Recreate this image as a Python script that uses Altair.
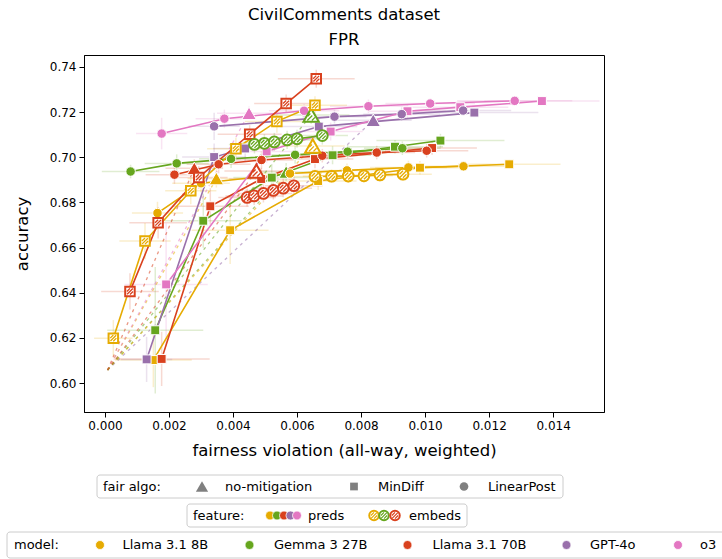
import altair as alt
import pandas as pd

FONT = "DejaVu Sans"
MODELS = ["Llama 3.1 8B", "Gemma 3 27B", "Llama 3.1 70B", "GPT-4o", "o3"]
COLORS = ["#e6ab02", "#66a61e", "#d9411e", "#9970ab", "#e377c2"]
ALGOS = ["no-mitigation", "MinDiff", "LinearPost"]
FEATURES = ["preds", "embeds"]
XTICKS = [0.0, 0.002, 0.004, 0.006, 0.008, 0.010, 0.012, 0.014]
YTICKS = [0.60, 0.62, 0.64, 0.66, 0.68, 0.70, 0.72, 0.74]

# each series: (x, y, x-error, y-error)
L8_P_NM = ([0.00348], [0.6906], [0.0009], [0.004])
L8_P_MD = ([0.00151, 0.00391, 0.00666, 0.00984, 0.01263],
           [0.6102, 0.6677, 0.6895, 0.6954, 0.6969],
           [0.0012, 0.0012, 0.0012, 0.0014, 0.0016],
           [0.012, 0.015, 0.004, 0.003, 0.002])
L8_P_LP = ([0.00164, 0.0030, 0.00578, 0.00756, 0.00948, 0.0112],
           [0.6753, 0.6885, 0.6928, 0.6942, 0.6955, 0.6960],
           [0.0008, 0.0009, 0.0010, 0.0011, 0.0012, 0.0013],
           [0.005, 0.004, 0.003, 0.003, 0.003, 0.002])
G_P_NM = ([0.00566], [0.6935], [0.0011], [0.004])
G_P_MD = ([0.00157, 0.00307, 0.00521, 0.00711, 0.00906, 0.01048],
          [0.6234, 0.6719, 0.6910, 0.7009, 0.7047, 0.7074],
          [0.0015, 0.0012, 0.0012, 0.0012, 0.0015, 0.0020],
          [0.028, 0.012, 0.006, 0.004, 0.003, 0.003])
G_P_LP = ([0.0008, 0.00224, 0.00394, 0.00594, 0.00758, 0.00929],
          [0.6937, 0.6973, 0.6993, 0.7011, 0.7025, 0.7040],
          [0.0009, 0.0010, 0.0010, 0.0011, 0.0012, 0.0012],
          [0.003, 0.004, 0.004, 0.004, 0.003, 0.003])
L70_P_NM = ([0.00279], [0.6951], [0.0009], [0.004])
L70_P_MD = ([0.00177, 0.00329, 0.00488, 0.00656, 0.01022],
            [0.6107, 0.6783, 0.6904, 0.6992, 0.7041],
            [0.0015, 0.0012, 0.0010, 0.0012, 0.0014],
            [0.012, 0.008, 0.005, 0.004, 0.003])
L70_P_LP = ([0.00217, 0.00355, 0.00489, 0.00679, 0.00849, 0.01005],
            [0.6923, 0.6969, 0.6988, 0.7007, 0.7021, 0.7029],
            [0.0009, 0.0010, 0.0010, 0.0011, 0.0012, 0.0013],
            [0.004, 0.004, 0.004, 0.003, 0.003, 0.003])
G4_P_NM = ([0.00838], [0.7164], [0.0012], [0.003])
G4_P_MD = ([0.0013, 0.00341, 0.00438, 0.00668, 0.01154],
           [0.6105, 0.7001, 0.7039, 0.7136, 0.7198],
           [0.0008, 0.0010, 0.0010, 0.0012, 0.0020],
           [0.010, 0.006, 0.006, 0.004, 0.002])
G4_P_LP = ([0.00341, 0.00717, 0.00927, 0.01119],
           [0.7137, 0.7180, 0.7191, 0.7207],
           [0.0008, 0.0010, 0.0012, 0.0015],
           [0.006, 0.003, 0.003, 0.002])
O3_P_NM = ([0.0045], [0.7195], [0.0010], [0.003])
O3_P_MD = ([0.00191, 0.00505, 0.00705, 0.00945, 0.0111, 0.01365],
           [0.6437, 0.7026, 0.7114, 0.7204, 0.7222, 0.7249],
           [0.0013, 0.0010, 0.0010, 0.0012, 0.0015, 0.0018],
           [0.027, 0.005, 0.004, 0.003, 0.002, 0.002])
O3_P_LP = ([0.00177, 0.00373, 0.00622, 0.00823, 0.01016, 0.0128],
           [0.7105, 0.7171, 0.7206, 0.7226, 0.7238, 0.7250],
           [0.0008, 0.0009, 0.0011, 0.0012, 0.0014, 0.0018],
           [0.007, 0.004, 0.003, 0.003, 0.002, 0.002])
L8_E_NM = ([0.00649], [0.7050], [0.0010], [0.004])
L8_E_MD = ([0.00026, 0.00125, 0.00268, 0.00409, 0.00537, 0.00656],
           [0.6199, 0.6629, 0.6852, 0.7038, 0.7159, 0.7230],
           [0.0006, 0.0008, 0.0008, 0.0009, 0.0010, 0.0010],
           [0.008, 0.008, 0.006, 0.005, 0.005, 0.004])
L8_E_LP = ([0.00656, 0.00708, 0.0076, 0.00809, 0.00859, 0.00931],
           [0.6915, 0.6916, 0.6917, 0.6918, 0.6922, 0.6925],
           [0.0009, 0.0009, 0.0009, 0.0009, 0.0009, 0.0009],
           [0.003, 0.003, 0.003, 0.003, 0.003, 0.003])
G_E_NM = ([0.00644], [0.7187], [0.0012], [0.004])
G_E_LP = ([0.00467, 0.00498, 0.00529, 0.00569, 0.0060, 0.00679],
          [0.7057, 0.7062, 0.7068, 0.7077, 0.7082, 0.7096],
          [0.0008, 0.0008, 0.0008, 0.0008, 0.0008, 0.0008],
          [0.004, 0.004, 0.004, 0.004, 0.004, 0.004])
L70_E_NM = ([0.00473], [0.6939], [0.0010], [0.004])
L70_E_MD = ([0.00078, 0.00166, 0.00293, 0.00452, 0.00566, 0.0066],
            [0.6406, 0.6710, 0.6911, 0.7102, 0.7238, 0.7348],
            [0.0009, 0.0009, 0.0009, 0.0010, 0.0010, 0.0012],
            [0.008, 0.007, 0.005, 0.004, 0.004, 0.004])
L70_E_LP = ([0.00444, 0.00466, 0.00495, 0.00526, 0.00557, 0.0059],
            [0.6822, 0.6829, 0.6840, 0.6853, 0.6863, 0.6874],
            [0.0009, 0.0009, 0.0009, 0.0009, 0.0009, 0.0009],
            [0.004, 0.004, 0.004, 0.004, 0.004, 0.004])
# trivial (constant) classifier that the dashed lines start from
ORIGIN = (0.00008, 0.6058)

SERIES = [
    ("Llama 3.1 8B", "preds", "no-mitigation", L8_P_NM),
    ("Llama 3.1 8B", "preds", "MinDiff", L8_P_MD),
    ("Llama 3.1 8B", "preds", "LinearPost", L8_P_LP),
    ("Gemma 3 27B", "preds", "no-mitigation", G_P_NM),
    ("Gemma 3 27B", "preds", "MinDiff", G_P_MD),
    ("Gemma 3 27B", "preds", "LinearPost", G_P_LP),
    ("Llama 3.1 70B", "preds", "no-mitigation", L70_P_NM),
    ("Llama 3.1 70B", "preds", "MinDiff", L70_P_MD),
    ("Llama 3.1 70B", "preds", "LinearPost", L70_P_LP),
    ("GPT-4o", "preds", "no-mitigation", G4_P_NM),
    ("GPT-4o", "preds", "MinDiff", G4_P_MD),
    ("GPT-4o", "preds", "LinearPost", G4_P_LP),
    ("o3", "preds", "no-mitigation", O3_P_NM),
    ("o3", "preds", "MinDiff", O3_P_MD),
    ("o3", "preds", "LinearPost", O3_P_LP),
    ("Llama 3.1 8B", "embeds", "no-mitigation", L8_E_NM),
    ("Llama 3.1 8B", "embeds", "MinDiff", L8_E_MD),
    ("Llama 3.1 8B", "embeds", "LinearPost", L8_E_LP),
    ("Gemma 3 27B", "embeds", "no-mitigation", G_E_NM),
    ("Gemma 3 27B", "embeds", "LinearPost", G_E_LP),
    ("Llama 3.1 70B", "embeds", "no-mitigation", L70_E_NM),
    ("Llama 3.1 70B", "embeds", "MinDiff", L70_E_MD),
    ("Llama 3.1 70B", "embeds", "LinearPost", L70_E_LP),
]

rows, dash_rows = [], []
for sid, (model, feat, algo, (xs, ys, xe, ye)) in enumerate(SERIES):
    for i, (x, y, a, b) in enumerate(zip(xs, ys, xe, ye)):
        rows.append(dict(sid=sid, model=model, feature=feat, algo=algo, order=i,
                         x=x, y=y, xlo=x - a, xhi=x + a, ylo=y - b, yhi=y + b))
    if algo == "no-mitigation":
        dash_rows.append(dict(sid=sid, model=model, order=0, x=ORIGIN[0], y=ORIGIN[1]))
        dash_rows.append(dict(sid=sid, model=model, order=1, x=xs[0], y=ys[0]))
df = pd.DataFrame(rows)
ddf = pd.DataFrame(dash_rows)

XS = alt.Scale(domain=[-0.000656, 0.01559], nice=False, zero=False)
YS = alt.Scale(domain=[0.5872, 0.7453], nice=False, zero=False)
XA = alt.Axis(title="fairness violation (all-way, weighted)", values=XTICKS, format=".3f", grid=False)
YA = alt.Axis(title="accuracy", values=YTICKS, format=".2f", grid=False)
CS = alt.Scale(domain=MODELS, range=COLORS)


def X(f):
    return alt.X(f, scale=XS, axis=XA)


def Y(f):
    return alt.Y(f, scale=YS, axis=YA)


col = alt.Color("model:N", scale=CS, legend=None)
stk = alt.Stroke("model:N", scale=CS, legend=None)
base = alt.Chart(df)

err_h = base.mark_rule(strokeWidth=1.5, opacity=0.2, clip=True).encode(
    x=X("xlo:Q"), x2="xhi:Q", y=Y("y:Q"), color=col)
err_v = base.mark_rule(strokeWidth=1.5, opacity=0.2, clip=True).encode(
    x=X("x:Q"), y=Y("ylo:Q"), y2="yhi:Q", color=col)
dashed = alt.Chart(ddf).mark_line(strokeDash=[3, 4], strokeWidth=1.3, opacity=0.55, clip=True).encode(
    x=X("x:Q"), y=Y("y:Q"), color=col, detail="sid:N", order="order:Q")
lines = base.transform_filter(alt.datum.algo != "no-mitigation").mark_line(
    strokeWidth=1.6, clip=True).encode(
    x=X("x:Q"), y=Y("y:Q"), color=col, detail="sid:N", order="order:Q")

SHAPE = {"no-mitigation": "triangle-up", "MinDiff": "square", "LinearPost": "circle"}
PRED_SIZE = {"no-mitigation": 210, "MinDiff": 80, "LinearPost": 90}
EMB_SIZE = {"no-mitigation": 235, "MinDiff": 90, "LinearPost": 115}
HATCH = "M-0.6,0.6L0.6,-0.6M-0.65,0.0L0.0,-0.65M0.0,0.65L0.65,0.0"
HATCH_TRI = "M-0.5,0.7L0.15,0.05M0.1,0.7L0.5,0.3M-0.45,0.15L-0.1,-0.2"

marks = []
for algo in ALGOS:
    sub = base.transform_filter((alt.datum.feature == "preds") & (alt.datum.algo == algo))
    marks.append(sub.mark_point(shape=SHAPE[algo], size=PRED_SIZE[algo], filled=True, opacity=1,
                                stroke="white", strokeWidth=1, clip=True).encode(
        x=X("x:Q"), y=Y("y:Q"), color=col))
for algo in ALGOS:
    sub = base.transform_filter((alt.datum.feature == "embeds") & (alt.datum.algo == algo))
    marks.append(sub.mark_point(shape=SHAPE[algo], size=EMB_SIZE[algo], filled=True, opacity=1,
                                strokeWidth=2, clip=True).encode(
        x=X("x:Q"), y=Y("y:Q"), fill=alt.value("white"), stroke=stk))
    marks.append(sub.mark_point(shape=HATCH_TRI if algo == "no-mitigation" else HATCH,
                                size=EMB_SIZE[algo], filled=False, opacity=1,
                                strokeWidth=1.3, clip=True).encode(
        x=X("x:Q"), y=Y("y:Q"), stroke=stk))

# ---------- custom legends (layout positions in pixels relative to plot origin)
one = pd.DataFrame({"a": [0]})


def ltext(t, px, py):
    return alt.Chart(pd.DataFrame({"t": [t]})).mark_text(
        align="left", baseline="middle", font=FONT, fontSize=13, color="black").encode(
        x=alt.value(px), y=alt.value(py), text="t:N")


def lsym(shape, px, py, size, fill, stroke="white", sw=1.0):
    return alt.Chart(one).mark_point(shape=shape, size=size, filled=True, fill=fill,
                                     stroke=stroke, strokeWidth=sw, opacity=1).encode(
        x=alt.value(px), y=alt.value(py))


def lhatch(px, py, color):
    return alt.Chart(one).mark_point(shape=HATCH, size=90, filled=False, stroke=color,
                                     strokeWidth=1.2, opacity=1).encode(
        x=alt.value(px), y=alt.value(py))


def lbox(x1, x2, y1, y2):
    return alt.Chart(one).mark_rect(fill="white", stroke="#cccccc", strokeWidth=1,
                                    cornerRadius=3).encode(
        x=alt.value(x1), x2=alt.value(x2), y=alt.value(y1), y2=alt.value(y2))


GRAY = "#808080"
leg = [
    lbox(13, 479, 420, 443),
    ltext("fair algo:", 19, 431.5),
    lsym("triangle-up", 118, 431.5, 150, GRAY, GRAY, 0),
    ltext("no-mitigation", 141, 431.5),
    lsym("square", 270, 431.5, 60, GRAY, GRAY, 0),
    ltext("MinDiff", 294, 431.5),
    lsym("circle", 380, 431.5, 75, GRAY, GRAY, 0),
    ltext("LinearPost", 404, 431.5),
    lbox(103, 383, 449, 472),
    ltext("feature:", 109, 460.5),
]
for i, px in enumerate([186, 193, 200, 206.5, 213]):
    leg.append(lsym("circle", px, 460.5, 80, COLORS[i], "white", 0.8))
leg.append(ltext("preds", 224, 460.5))
for i, px in enumerate([290, 300, 311]):
    leg.append(lsym("circle", px, 460.5, 90, "white", COLORS[i], 2))
    leg.append(lhatch(px, 460.5, COLORS[i]))
leg.append(ltext("embeds", 325, 460.5))
leg.append(lbox(-77, 660, 477, 503))
leg.append(ltext("model:", -70, 490))
for i, (dx, tx) in enumerate([(16, 38.5), (165.5, 190), (323.5, 348.5), (482.5, 506), (594, 616)]):
    leg.append(lsym("circle", dx, 490, 80, COLORS[i], "white", 0.8))
    leg.append(ltext(MODELS[i], tx, 490))

chart = alt.layer(err_h, err_v, dashed, lines, *marks, *leg).properties(
    width=520, height=357,
    autosize=alt.AutoSizeParams(type="none"),
    padding={"left": 84, "top": 55, "right": 118, "bottom": 147},
    title=alt.TitleParams(["CivilComments dataset", "FPR"], font=FONT, fontSize=16.5,
                          fontWeight="normal", anchor="middle", lineHeight=25,
                          offset=7, color="black"),
).configure_view(stroke="black", strokeWidth=1).configure_axis(
    labelFont=FONT, titleFont=FONT, labelFontSize=12, titleFontSize=16.5,
    titleFontWeight="normal", labelColor="black", titleColor="black",
    tickColor="black", domainColor="black", tickSize=5, labelPadding=3,
    domain=True
).configure_axisY(titlePadding=19).configure_axisX(titlePadding=11)

chart.save("out.html", embed_options={"renderer": "svg", "actions": False})
